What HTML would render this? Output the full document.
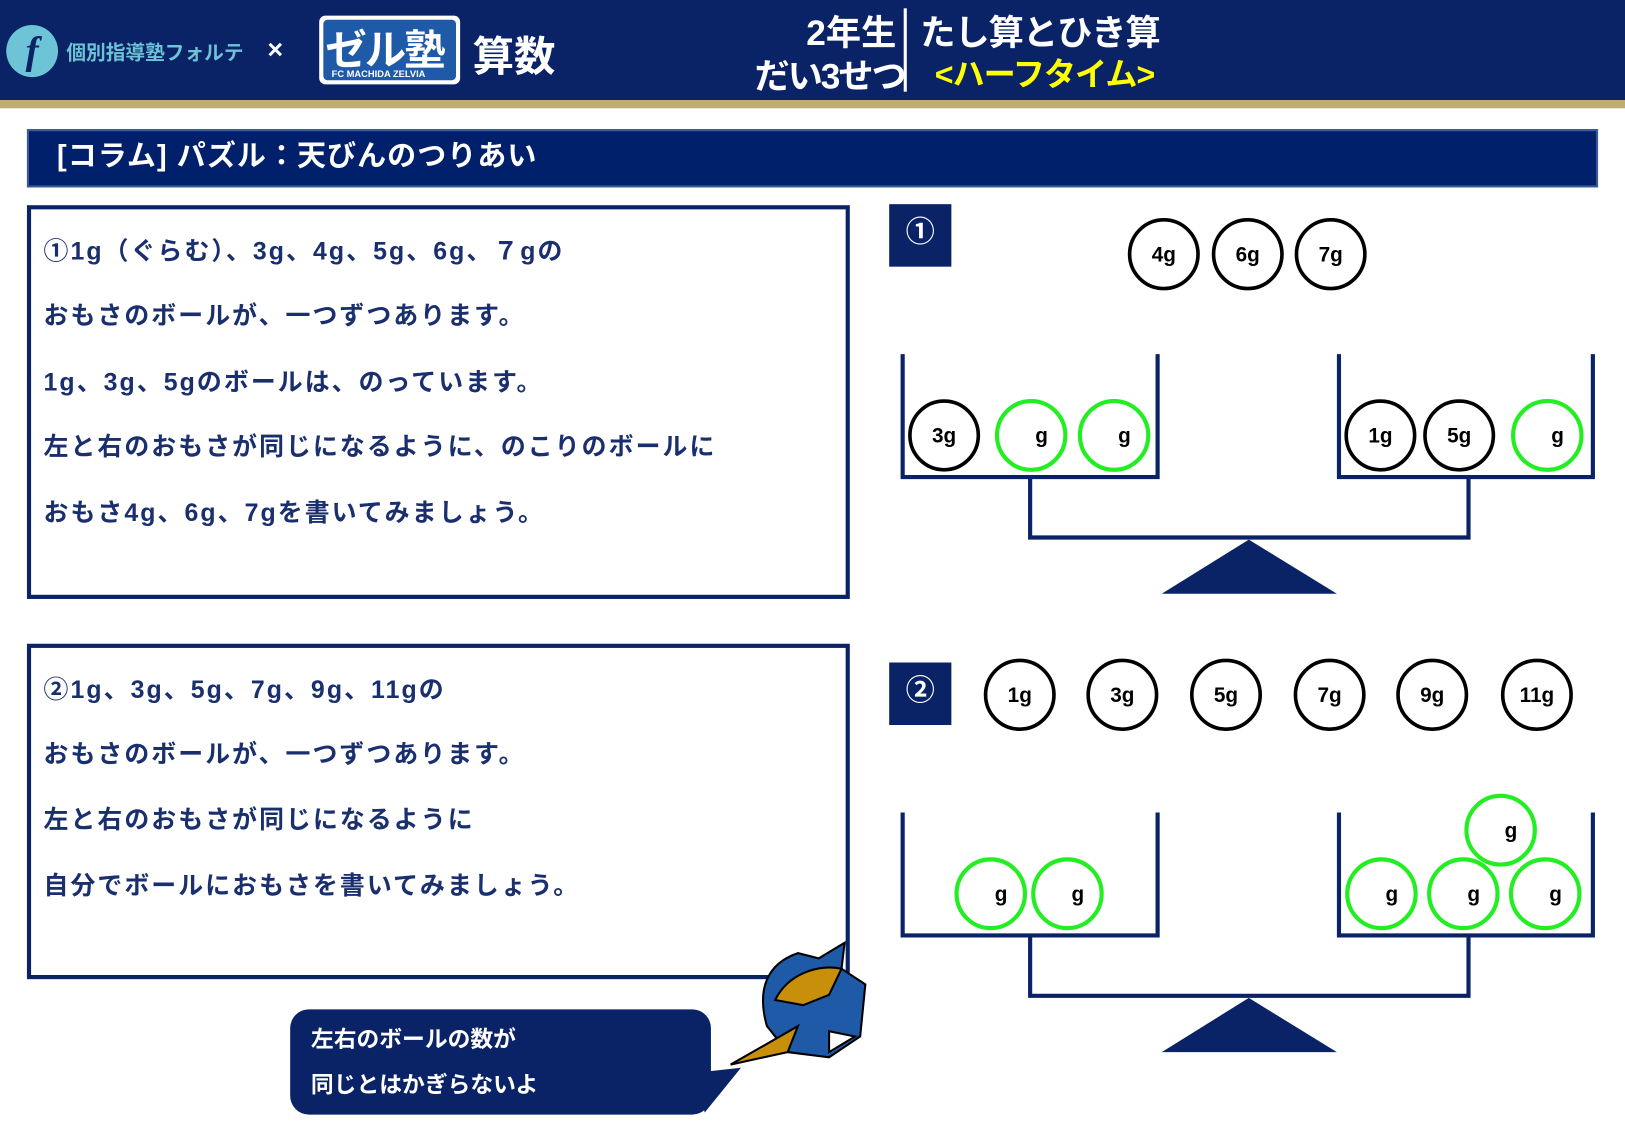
<!DOCTYPE html>
<html><head><meta charset="utf-8"><style>
html,body{margin:0;padding:0;background:#fff;overflow:hidden;width:1625px;height:1125px}
#w{position:absolute;left:0;top:0;width:1568px;height:1080px;transform-origin:0 0;transform:scale(1.03635,1.04167);font-family:"Liberation Sans","Noto Sans CJK JP",sans-serif;font-weight:bold}
.a{position:absolute}
.t{color:#1a2f6e;font-size:24px;white-space:nowrap;letter-spacing:2px}
</style></head><body><div id="w">
<div class="a" style="left:0;top:0;width:1568px;height:96px;background:#0a2266"></div>
<div class="a" style="left:0;top:96px;width:1568px;height:8px;background:#bfae72"></div>
<div class="a" style="left:6px;top:24px;width:50px;height:50px;border-radius:50%;background:#6cc4d6;color:#0a2266;font:italic bold 38px 'Liberation Serif',serif;text-align:center;line-height:50px">f</div>
<div class="a" style="left:64px;top:36px;color:#6cc4d6;font-size:19px">個別指導塾フォルテ</div>
<div class="a" style="left:258px;top:32px;color:#fff;font-size:26px">×</div>
<div class="a" style="left:308px;top:15px;width:136px;height:66px;background:#fff;border-radius:6px"></div>
<div class="a" style="left:312px;top:19px;width:128px;height:58px;background:#1f5aa8;border-radius:4px"></div>
<div class="a" style="left:314px;top:16px;color:#fff;font-size:40px;letter-spacing:-2px">ゼル塾</div>
<div class="a" style="left:320px;top:66px;color:#fff;font-size:9px">FC MACHIDA ZELVIA</div>
<div class="a" style="left:456px;top:22px;color:#fff;font-size:40px">算数</div>
<div class="a" style="left:778px;top:4px;color:#fff;font-size:34px">2年生</div>
<div class="a" style="left:728px;top:46px;color:#fff;font-size:34px;letter-spacing:-2px">だい3せつ</div>
<div class="a" style="left:872px;top:8px;width:3px;height:80px;background:#fff"></div>
<div class="a" style="left:888px;top:4px;color:#fff;font-size:34px;letter-spacing:-1px">たし算とひき算</div>
<div class="a" style="left:902px;top:46px;color:#ffff00;font-size:31px;letter-spacing:-1px">&lt;ハーフタイム&gt;</div>
<div class="a" style="left:26px;top:124px;width:1512px;height:52px;background:#00206b;border:2px solid #3a5a9a"></div>
<div class="a" style="left:55px;top:128px;color:#fff;font-size:28px;letter-spacing:1px">[コラム] パズル：天びんのつりあい</div>
<div class="a" style="left:26px;top:197px;width:786px;height:370px;border:4px solid #0a2266"></div>
<div class="a t" style="left:42px;top:221px">①1g（ぐらむ）、3g、4g、5g、6g、７gの</div>
<div class="a t" style="left:42px;top:283px">おもさのボールが、一つずつあります。</div>
<div class="a t" style="left:42px;top:347px">1g、3g、5gのボールは、のっています。</div>
<div class="a t" style="left:42px;top:409px">左と右のおもさが同じになるように、のこりのボールに</div>
<div class="a t" style="left:42px;top:472px">おもさ4g、6g、7gを書いてみましょう。</div>
<div class="a" style="left:26px;top:618px;width:786px;height:314px;border:4px solid #0a2266"></div>
<div class="a t" style="left:42px;top:642px">②1g、3g、5g、7g、9g、11gの</div>
<div class="a t" style="left:42px;top:704px">おもさのボールが、一つずつあります。</div>
<div class="a t" style="left:42px;top:767px">左と右のおもさが同じになるように</div>
<div class="a t" style="left:42px;top:830px">自分でボールにおもさを書いてみましょう。</div>
<div class="a" style="left:858px;top:196px;width:60px;height:60px;background:#0a2266;color:#fff;font-size:28px;text-align:center;line-height:54px">①</div>
<div class="a" style="left:858px;top:636px;width:60px;height:60px;background:#0a2266;color:#fff;font-size:28px;text-align:center;line-height:54px">②</div>
<svg class="a" style="left:0;top:0" width="1568" height="1080" font-family="Liberation Sans, sans-serif" font-weight="bold" font-size="20" text-anchor="middle">
<g fill="none" stroke="#0a2266" stroke-width="4">
<path d="M871 340V458H1117V340M1292 340V458H1537V340M994 458V516H1417V458"/>
<path d="M871 780V898H1117V780M1292 780V898H1537V780M994 898V956H1417V898"/>
</g>
<path d="M1205 518L1290 570H1121Z" fill="#0a2266"/>
<path d="M1205 958L1290 1010H1121Z" fill="#0a2266"/>
<g fill="#fff" stroke="#000" stroke-width="3.5">
<circle cx="1123" cy="244" r="33"/><circle cx="1204" cy="244" r="33"/><circle cx="1284" cy="244" r="33"/>
<circle cx="911" cy="418" r="33"/><circle cx="1332" cy="418" r="33"/><circle cx="1408" cy="418" r="33"/>
<circle cx="984" cy="667" r="33"/><circle cx="1083" cy="667" r="33"/><circle cx="1183" cy="667" r="33"/><circle cx="1283" cy="667" r="33"/><circle cx="1382" cy="667" r="33"/><circle cx="1483" cy="667" r="33"/>
</g>
<g fill="#fff" stroke="#22ee22" stroke-width="4">
<circle cx="995" cy="418" r="33"/><circle cx="1075" cy="418" r="33"/><circle cx="1493" cy="418" r="33"/>
<circle cx="956" cy="858" r="33"/><circle cx="1030" cy="858" r="33"/>
<circle cx="1448" cy="797" r="33"/><circle cx="1333" cy="858" r="33"/><circle cx="1412" cy="858" r="33"/><circle cx="1491" cy="858" r="33"/>
</g>
<g fill="#000">
<text x="1123" y="251">4g</text><text x="1204" y="251">6g</text><text x="1284" y="251">7g</text>
<text x="911" y="425">3g</text><text x="1332" y="425">1g</text><text x="1408" y="425">5g</text>
<text x="1005" y="425">g</text><text x="1085" y="425">g</text><text x="1503" y="425">g</text>
<text x="984" y="674">1g</text><text x="1083" y="674">3g</text><text x="1183" y="674">5g</text><text x="1283" y="674">7g</text><text x="1382" y="674">9g</text><text x="1483" y="674">11g</text>
<text x="966" y="865">g</text><text x="1040" y="865">g</text><text x="1458" y="804">g</text><text x="1343" y="865">g</text><text x="1422" y="865">g</text><text x="1501" y="865">g</text>
</g>
<rect x="280" y="969" width="406" height="101" rx="18" fill="#0a2266"/>
<path d="M670 1030L715 1025L680 1068Z" fill="#0a2266"/>
<g stroke="#000" stroke-width="2">
<path d="M740 985C730 950 740 925 770 915L790 920L815 905L812 930L835 945L830 995L800 1015L760 1010Z" fill="#1f5aa8"/>
<path d="M748 960C760 935 790 925 812 930L800 955L775 965Z" fill="#c8900a"/>
<path d="M770 985L705 1022L760 1010Z" fill="#c8900a"/>
<path d="M800 990L825 995L800 1010Z" fill="#fff"/>
</g>
<text x="300" y="1005" fill="#fff" font-family="Liberation Sans, Noto Sans CJK JP, sans-serif" font-size="22" text-anchor="start">左右のボールの数が</text>
<text x="300" y="1049" fill="#fff" font-family="Liberation Sans, Noto Sans CJK JP, sans-serif" font-size="22" text-anchor="start">同じとはかぎらないよ</text>
</svg>
</div></body></html>
